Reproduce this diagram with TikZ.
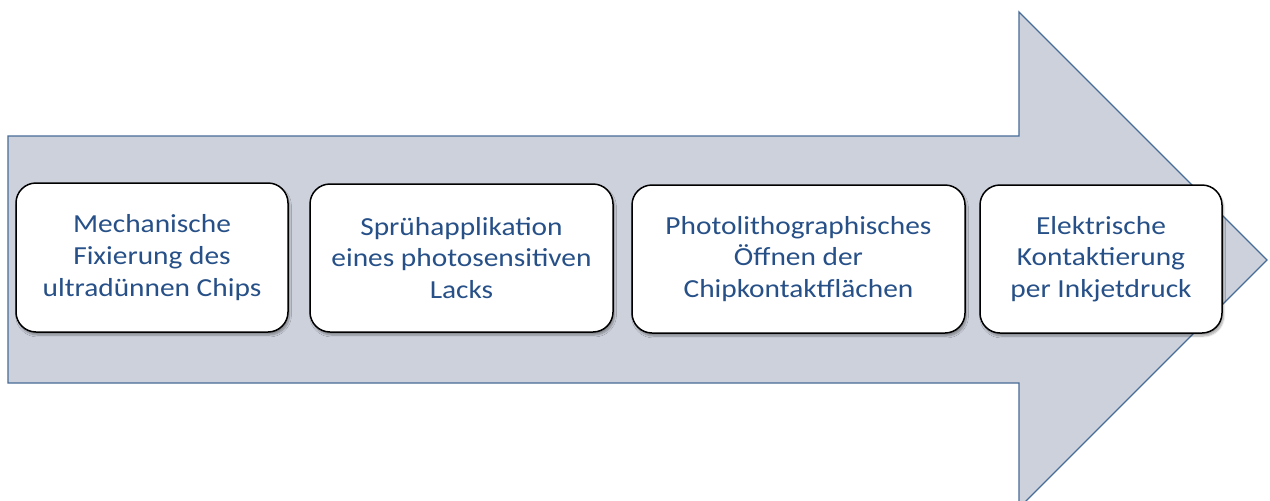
\documentclass[tikz,border=0pt]{standalone}
\usepackage{fontspec}
\setmainfont{Carlito}[FakeStretch=1.13]
\usetikzlibrary{shadows.blur}
\definecolor{txtblue}{RGB}{38,80,135}
\definecolor{arrowfill}{RGB}{205,209,219}
\definecolor{arrowline}{RGB}{72,108,152}
\tikzset{
  stepbox/.style={draw=black, line width=1.5pt, fill=white, rounded corners=20pt,
    inner sep=0pt, align=center, text=txtblue,
    font=\fontsize{26}{31.7}\selectfont,
    blur shadow={shadow xshift=1.5pt, shadow yshift=-3pt, shadow blur steps=6, shadow opacity=35}}
}
\begin{document}
\begin{tikzpicture}[x=1pt,y=-1pt]
\useasboundingbox (0,0) rectangle (1270,501);
\clip (0,0) rectangle (1270,501);
\draw[fill=arrowfill, draw=arrowline, line width=1.3pt, line join=miter]
  (8,136) -- (1019,136) -- (1019,12) -- (1267,260) -- (1019,508) -- (1019,383) -- (8,383) -- cycle;
\node[stepbox, minimum width=272pt, minimum height=149pt] (s1) at (152,257.5)
  {Mechanische\\Fixierung des\\ultradünnen Chips};
\node[stepbox, minimum width=303pt, minimum height=148pt] (s2) at (461.5,258)
  {Sprühapplikation\\eines photosensitiven\\Lacks};
\node[stepbox, minimum width=333pt, minimum height=148pt] (s3) at (798.5,259)
  {Photolithographisches\\Öffnen der\\Chipkontaktflächen};
\node[stepbox, minimum width=242pt, minimum height=148pt] (s4) at (1101,259)
  {Elektrische\\Kontaktierung\\per Inkjetdruck};
\end{tikzpicture}
\end{document}
